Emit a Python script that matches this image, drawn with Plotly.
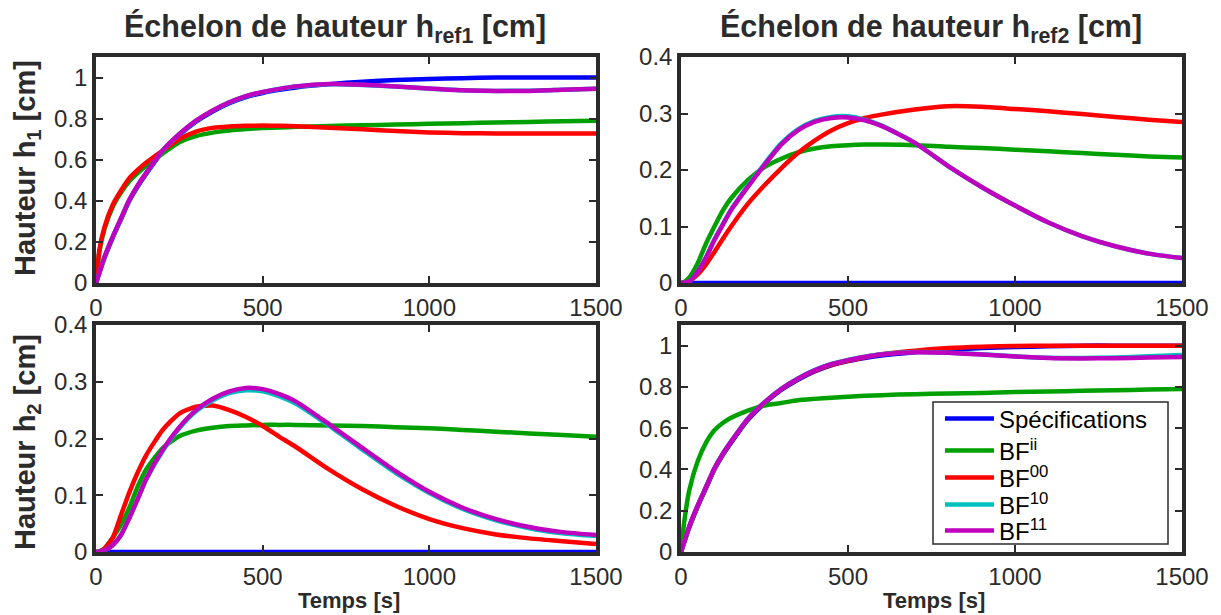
import plotly.graph_objects as go

# ---------------- data ----------------
T = [0, 10, 25, 50, 75, 100, 125, 150, 200, 250, 300, 350, 400, 450, 500,
     550, 600, 700, 800, 900, 1000, 1100, 1200, 1300, 1400, 1500]

# Spécifications (first-order reference)
SPEC_STEP = [0, 0.05, 0.12, 0.22, 0.31, 0.40, 0.47, 0.53, 0.64, 0.72, 0.785, 0.835, 0.875,
             0.905, 0.925, 0.94, 0.952, 0.968, 0.98, 0.988, 0.993, 0.997, 1.0, 1.0, 1.0, 1.0]
SPEC_ZERO = [0] * 26

# Panel 1 : h1, step on href1
H1R1_II = [0, 0.15, 0.26, 0.37, 0.44, 0.495, 0.535, 0.57, 0.63, 0.685, 0.715, 0.732, 0.742,
           0.749, 0.754, 0.757, 0.76, 0.764, 0.768, 0.771, 0.775, 0.778, 0.781, 0.784, 0.787, 0.79]
H1R1_00 = [0, 0.16, 0.27, 0.38, 0.45, 0.51, 0.55, 0.585, 0.645, 0.70, 0.737, 0.755, 0.762,
           0.765, 0.766, 0.765, 0.763, 0.756, 0.748, 0.74, 0.733, 0.729, 0.728, 0.728, 0.728, 0.728]
H1R1_10 = [0, 0.05, 0.124, 0.224, 0.314, 0.404, 0.474, 0.534, 0.644, 0.724, 0.789, 0.839, 0.879,
           0.909, 0.929, 0.944, 0.956, 0.967, 0.964, 0.956, 0.946, 0.938, 0.935, 0.936, 0.94, 0.946]
H1R1_11 = [0, 0.05, 0.125, 0.225, 0.315, 0.405, 0.475, 0.535, 0.645, 0.725, 0.79, 0.84, 0.88,
           0.91, 0.93, 0.945, 0.957, 0.968, 0.965, 0.957, 0.947, 0.938, 0.935, 0.935, 0.94, 0.945]

# Panel 2 : h1, step on href2
H1R2_II = [0, 0.002, 0.01, 0.035, 0.07, 0.10, 0.128, 0.15, 0.182, 0.205, 0.22, 0.231, 0.238,
           0.242, 0.244, 0.245, 0.245, 0.244, 0.241, 0.239, 0.236, 0.233, 0.23, 0.227, 0.224, 0.222]
H1R2_00 = [0, 0.0005, 0.003, 0.015, 0.033, 0.055, 0.078, 0.10, 0.14, 0.173, 0.203, 0.23, 0.252,
           0.27, 0.283, 0.292, 0.298, 0.307, 0.313, 0.312, 0.308, 0.304, 0.299, 0.294, 0.289, 0.285]
H1R2_10 = [0, 0.0005, 0.003, 0.02, 0.046, 0.077, 0.104, 0.13, 0.172, 0.211, 0.247, 0.272, 0.287,
           0.294, 0.295, 0.289, 0.279, 0.248, 0.207, 0.17, 0.137, 0.107, 0.083, 0.065, 0.052, 0.044]
H1R2_11 = [0, 0.0005, 0.003, 0.02, 0.045, 0.076, 0.103, 0.129, 0.17, 0.209, 0.245, 0.27, 0.285,
           0.292, 0.293, 0.288, 0.278, 0.248, 0.207, 0.17, 0.137, 0.107, 0.083, 0.065, 0.052, 0.044]

# Panel 3 : h2, step on href1
H2R1_II = [0, 0.001, 0.006, 0.025, 0.048, 0.078, 0.115, 0.145, 0.183, 0.204, 0.214, 0.219, 0.222,
           0.223, 0.224, 0.224, 0.224, 0.223, 0.222, 0.22, 0.218, 0.215, 0.212, 0.209, 0.206, 0.203]
H2R1_00 = [0, 0.001, 0.006, 0.025, 0.065, 0.105, 0.14, 0.17, 0.215, 0.244, 0.256, 0.258, 0.25,
           0.238, 0.222, 0.203, 0.185, 0.145, 0.11, 0.081, 0.058, 0.042, 0.031, 0.024, 0.019, 0.014]
H2R1_10 = [0, 0.0005, 0.003, 0.012, 0.03, 0.06, 0.093, 0.127, 0.178, 0.218, 0.248, 0.267, 0.280,
           0.285, 0.283, 0.274, 0.261, 0.222, 0.18, 0.139, 0.104, 0.076, 0.056, 0.042, 0.033, 0.028]
H2R1_11 = [0, 0.0005, 0.003, 0.012, 0.03, 0.06, 0.093, 0.128, 0.18, 0.22, 0.25, 0.27, 0.283,
           0.289, 0.287, 0.278, 0.265, 0.225, 0.183, 0.142, 0.106, 0.078, 0.058, 0.044, 0.035, 0.03]

# Panel 4 : h2, step on href2
H2R2_II = [0, 0.15, 0.30, 0.44, 0.53, 0.59, 0.625, 0.65, 0.685, 0.71, 0.722, 0.735, 0.742,
           0.748, 0.752, 0.757, 0.76, 0.765, 0.768, 0.771, 0.775, 0.778, 0.781, 0.784, 0.787, 0.79]
H2R2_00 = [0, 0.05, 0.124, 0.224, 0.314, 0.404, 0.474, 0.534, 0.644, 0.724, 0.789, 0.838, 0.877,
           0.907, 0.927, 0.944, 0.958, 0.975, 0.988, 0.995, 0.998, 1.0, 1.0, 1.0, 1.0, 1.0]
H2R2_10 = [0, 0.05, 0.125, 0.226, 0.316, 0.406, 0.476, 0.536, 0.646, 0.726, 0.791, 0.841, 0.881,
           0.911, 0.931, 0.946, 0.958, 0.969, 0.966, 0.958, 0.948, 0.941, 0.94, 0.942, 0.948, 0.955]
H2R2_11 = [0, 0.05, 0.125, 0.225, 0.315, 0.405, 0.475, 0.535, 0.645, 0.725, 0.79, 0.84, 0.88,
           0.91, 0.93, 0.945, 0.957, 0.968, 0.965, 0.957, 0.947, 0.94, 0.938, 0.939, 0.942, 0.945]

NAMES = ["Spécifications", "BF<sup>ii</sup>", "BF<sup>00</sup>", "BF<sup>10</sup>", "BF<sup>11</sup>"]
COLORS = ["#0000ff", "#00a000", "#ff0000", "#00bfbf", "#bf00bf"]
LEGEND_IDS = ["legend", "legend2", "legend3", "legend4", "legend5"]

PANELS = [
    ("x", "y", [SPEC_STEP, H1R1_II, H1R1_00, H1R1_10, H1R1_11]),
    ("x2", "y2", [SPEC_ZERO, H1R2_II, H1R2_00, H1R2_10, H1R2_11]),
    ("x3", "y3", [SPEC_ZERO, H2R1_II, H2R1_00, H2R1_10, H2R1_11]),
    ("x4", "y4", [SPEC_STEP, H2R2_II, H2R2_00, H2R2_10, H2R2_11]),
]

FONT = "Liberation Sans, Arial, Helvetica, sans-serif"
TICKFONT = "Liberation Sans Narrow, Arial Narrow, Liberation Sans, sans-serif"
DARK = "#2b2b2b"

fig = go.Figure()
for i, (xa, ya, series) in enumerate(PANELS):
    for name, color, vals, lg in zip(NAMES, COLORS, series, LEGEND_IDS):
        fig.add_trace(go.Scatter(
            x=T, y=vals, xaxis=xa, yaxis=ya, mode="lines", name=name,
            line=dict(color=color, width=4.5, shape="spline", smoothing=0.6),
            showlegend=(i == 3), legend=lg, hoverinfo="skip"))

W, H = 1221, 615
def px_x(a, b):
    return [a / W, b / W]
def px_y(top, bottom):
    return [(H - bottom) / H, (H - top) / H]

axis_common = dict(showline=True, linecolor=DARK, linewidth=3.5, mirror="ticks",
                   ticks="inside", ticklen=7, tickwidth=1.5, tickcolor=DARK,
                   showgrid=False, zeroline=False,
                   tickfont=dict(family=TICKFONT, size=24, color=DARK))

XL = px_x(96, 596)
XR = px_x(681, 1182)
YT = px_y(57, 283)
YB = px_y(325, 552)

YT_VALS = [0, 0.2, 0.4, 0.6, 0.8, 1]
YT_TEXT = ["0", "0.2", "0.4", "0.6", "0.8", "1"]

fig.update_layout(
    width=W, height=H, margin=dict(l=0, r=0, t=0, b=0, pad=0, autoexpand=False),
    paper_bgcolor="white", plot_bgcolor="white",
    xaxis=dict(domain=XL, anchor="y", range=[0, 1500], dtick=500, **axis_common),
    yaxis=dict(domain=YT, anchor="x", range=[0, 1.1], tickvals=YT_VALS, ticktext=YT_TEXT,
               **axis_common),
    xaxis2=dict(domain=XR, anchor="y2", range=[0, 1500], dtick=500, **axis_common),
    yaxis2=dict(domain=YT, anchor="x2", range=[0, 0.4], dtick=0.1, **axis_common),
    xaxis3=dict(domain=XL, anchor="y3", range=[0, 1500], dtick=500, **axis_common),
    yaxis3=dict(domain=YB, anchor="x3", range=[0, 0.4], dtick=0.1, **axis_common),
    xaxis4=dict(domain=XR, anchor="y4", range=[0, 1500], dtick=500, **axis_common),
    yaxis4=dict(domain=YB, anchor="x4", range=[0, 1.1], tickvals=YT_VALS, ticktext=YT_TEXT,
                **axis_common),
)

# legend frame (white box with dark border) and one legend per row
fig.add_shape(type="rect", xref="paper", yref="paper",
              x0=933 / W, x1=1168 / W, y0=(H - 544) / H, y1=(H - 402) / H,
              fillcolor="white", line=dict(color=DARK, width=1.5), layer="above")
ROW_Y = [419, 451, 478, 505, 531]
legend_layout = {}
for lg, ry in zip(LEGEND_IDS, ROW_Y):
    legend_layout[lg] = dict(x=940 / W, y=(H - ry) / H, xanchor="left", yanchor="middle",
                             bgcolor="rgba(0,0,0,0)", borderwidth=0,
                             font=dict(family=FONT, size=24, color="black"),
                             itemwidth=49, tracegroupgap=0)
fig.update_layout(**legend_layout)

annots = []
for cx, sub in ((335, "ref1"), (931, "ref2")):
    annots.append(dict(x=cx / W, y=(H - 28) / H, xref="paper", yref="paper",
                       text=f"<b>Échelon de hauteur h<sub>{sub}</sub> [cm]</b>",
                       showarrow=False, xanchor="center", yanchor="middle",
                       font=dict(family=FONT, size=30.5, color=DARK)))
for cy, sub in ((168, "1"), (442, "2")):
    annots.append(dict(x=27 / W, y=(H - cy) / H, xref="paper", yref="paper",
                       text=f"<b>Hauteur h<sub>{sub}</sub> [cm]</b>", textangle=-90,
                       showarrow=False, xanchor="center", yanchor="middle",
                       font=dict(family=FONT, size=29, color=DARK)))
for cx in (349, 934):
    annots.append(dict(x=cx / W, y=(H - 600) / H, xref="paper", yref="paper",
                       text="<b>Temps [s]</b>", showarrow=False,
                       xanchor="center", yanchor="middle",
                       font=dict(family=FONT, size=22, color=DARK)))
fig.update_layout(annotations=annots)

fig.write_html("out.html", config={"displayModeBar": False},
               post_script="document.body.style.margin='0';document.body.style.overflow='hidden';")
